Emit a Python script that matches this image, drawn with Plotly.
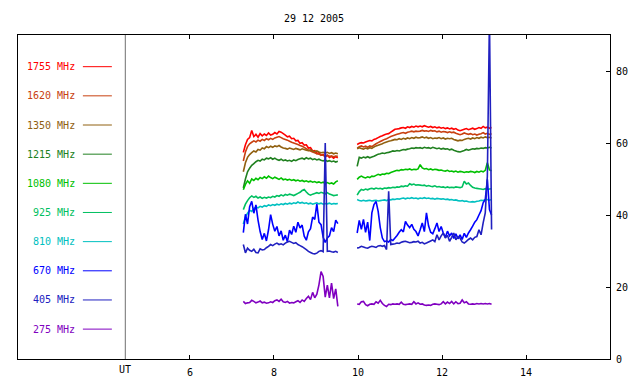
import plotly.graph_objects as go

# ---------------- data ----------------
TITLE = "29 12 2005"
FREQ_LABELS = ["1755 MHz", "1620 MHz", "1350 MHz", "1215 MHz", "1080 MHz",
               "925 MHz", "810 MHz", "670 MHz", "405 MHz", "275 MHz"]
COLORS = ["#ff0000", "#c84010", "#906010", "#208020", "#00c000",
          "#00c060", "#00c0c0", "#0000ff", "#2020c0", "#8000c0"]
X_TICKS = [6, 8, 10, 12, 14]
Y_TICKS = [0, 20, 40, 60, 80]
UT_MARK = 4.46

T1 = [7.27, 7.32, 7.37, 7.42, 7.47, 7.52, 7.57, 7.62, 7.67, 7.72,
      7.77, 7.82, 7.87, 7.92, 7.97, 8.02, 8.07, 8.12, 8.17, 8.22,
      8.27, 8.32, 8.37, 8.42, 8.47, 8.52, 8.57, 8.62, 8.67, 8.72,
      8.77, 8.82, 8.87, 8.92, 8.97, 9.02, 9.07, 9.12, 9.17, 9.22,
      9.27, 9.32, 9.37, 9.42, 9.47, 9.52]
T2 = [9.98, 10.03, 10.08, 10.13, 10.18, 10.23, 10.28, 10.33, 10.38, 10.43,
      10.48, 10.53, 10.58, 10.63, 10.68, 10.73, 10.78, 10.83, 10.88, 10.93,
      10.98, 11.03, 11.08, 11.13, 11.18, 11.23, 11.28, 11.33, 11.38, 11.43,
      11.48, 11.53, 11.58, 11.63, 11.68, 11.73, 11.78, 11.83, 11.88, 11.93,
      11.98, 12.03, 12.08, 12.13, 12.18, 12.23, 12.28, 12.33, 12.38, 12.43,
      12.48, 12.53, 12.58, 12.63, 12.68, 12.73, 12.78, 12.83, 12.88, 12.93,
      12.98, 13.03, 13.08, 13.13, 13.18]

# 1755 MHz
R1 = [57.4, 59.5, 61.0, 61.5, 63.5, 61.8, 62.4, 61.6, 62.6, 62.0,
      62.5, 62.1, 62.8, 62.2, 62.4, 62.9, 62.5, 63.2, 63.0, 62.6,
      62.2, 61.7, 61.9, 61.2, 61.3, 60.6, 60.7, 59.9, 60.1, 59.4,
      59.5, 58.6, 58.7, 57.8, 57.9, 57.1, 57.3, 56.6, 56.8, 56.1,
      56.6, 56.0, 56.3, 55.8, 56.2, 55.9]
R2 = [59.6, 59.9, 60.1, 60.0, 60.3, 60.5, 60.7, 60.6, 61.0, 61.2,
      61.5, 61.8, 62.0, 62.3, 62.5, 62.6, 63.0, 63.4, 63.8, 63.9,
      64.0, 64.2, 64.3, 64.1, 64.5, 64.3, 64.6, 64.4, 64.7, 64.5,
      64.7, 64.5, 64.8, 64.6, 64.4, 64.6, 64.3, 64.5, 64.2, 64.4,
      64.1, 64.3, 64.0, 64.2, 63.9, 64.1, 63.8, 64.0, 63.6, 63.4,
      63.6, 63.8, 64.0, 63.7, 63.9, 64.1, 63.8, 64.0, 64.3, 64.1,
      64.6, 64.2, 64.4, 64.1, 64.3]
# 1620 MHz
O1 = [55.0, 57.5, 59.0, 59.8, 60.2, 60.6, 60.3, 60.8, 60.5, 61.0,
      60.7, 61.2, 60.9, 61.3, 61.0, 61.4, 61.6, 61.8, 61.5, 61.2,
      61.0, 60.8, 60.5, 60.2, 60.0, 59.8, 59.6, 59.3, 59.1, 58.8,
      58.4, 58.0, 57.8, 57.5, 57.3, 57.0, 56.9, 56.7, 56.6, 56.4,
      56.6, 56.3, 56.4, 56.2, 56.4, 56.3]
O2 = [58.6, 59.0, 59.2, 58.9, 59.1, 58.8, 59.2, 59.0, 59.4, 59.8,
      60.1, 60.4, 60.7, 61.0, 61.2, 61.5, 61.8, 62.0, 62.2, 62.4,
      62.6, 62.8, 62.9, 62.7, 63.0, 63.1, 63.3, 63.1, 63.3, 63.2,
      63.3, 63.5, 63.3, 63.4, 63.2, 63.5, 63.3, 63.4, 63.1, 63.3,
      63.0, 63.2, 63.1, 62.9, 63.1, 62.9, 63.0, 62.7, 62.5, 62.3,
      62.5, 62.8, 62.6, 62.4, 62.6, 62.3, 62.5, 62.2, 62.4, 62.6,
      62.9, 62.5, 62.7, 62.4, 62.6]
# 1350 MHz
B1 = [52.0, 54.5, 56.0, 56.8, 57.3, 57.8, 57.5, 58.2, 58.0, 58.6,
      58.4, 59.0, 58.7, 59.1, 58.8, 59.2, 59.0, 59.3, 58.9, 58.6,
      58.5, 58.3, 58.6, 58.4, 58.2, 58.5, 58.3, 58.1, 58.4, 58.2,
      58.0, 57.9, 58.1, 57.8, 57.6, 57.8, 57.5, 57.3, 57.4, 57.2,
      57.4, 57.1, 57.3, 57.0, 57.2, 57.0]
B2 = [58.4, 58.7, 58.5, 58.3, 58.6, 58.4, 58.7, 58.5, 58.9, 59.2,
      59.4, 59.6, 59.8, 60.1, 60.3, 60.5, 60.6, 60.8, 61.0, 60.9,
      61.2, 61.0, 61.3, 61.1, 61.4, 61.2, 61.5, 61.3, 61.6, 61.4,
      61.5, 61.7, 61.4, 61.6, 61.3, 61.5, 61.2, 61.4, 61.3, 61.5,
      61.2, 61.4, 61.1, 61.3, 61.2, 61.3, 61.0, 60.8, 60.6, 60.8,
      60.7, 61.0, 61.2, 61.3, 61.1, 61.4, 61.2, 61.5, 61.3, 61.6,
      61.4, 61.7, 61.5, 61.6, 61.4]
# 1215 MHz
G1 = [47.5, 50.0, 52.0, 53.0, 53.8, 54.3, 54.8, 55.2, 55.0, 55.5,
      55.3, 55.8, 55.6, 55.9, 55.5, 55.8, 55.4, 55.2, 55.5, 55.1,
      55.3, 55.0, 55.2, 54.9, 55.3, 55.1, 55.4, 55.6, 55.8, 55.5,
      55.9, 55.6, 55.8, 55.4, 55.6, 55.3, 55.5, 55.2, 55.0, 55.3,
      54.9, 55.1, 54.8, 55.0, 54.7, 54.9]
G2 = [53.5, 56.0, 55.8, 56.1, 55.9, 56.2, 55.9, 56.1, 56.3, 56.6,
      56.9, 57.0, 57.2, 57.1, 57.3, 57.4, 57.6, 57.8, 57.7, 57.9,
      57.8, 58.0, 58.2, 58.1, 58.3, 58.4, 58.6, 58.5, 58.7, 58.6,
      58.7, 58.5, 58.8, 58.6, 58.7, 58.5, 58.8, 58.6, 58.4, 58.6,
      58.3, 58.5, 58.3, 58.4, 58.1, 58.3, 58.0, 57.8, 57.6, 57.5,
      57.7, 57.9, 58.2, 58.0, 58.2, 58.4, 58.3, 58.5, 58.4, 58.6,
      58.5, 58.7, 58.6, 58.8, 58.6]
# 1080 MHz
L1 = [47.0, 48.5, 49.5, 48.8, 50.0, 49.6, 50.2, 49.8, 50.4, 50.1,
      50.6, 50.2, 50.8, 50.4, 50.1, 50.5, 50.2, 49.9, 50.3, 49.8,
      50.0, 49.7, 49.9, 49.6, 49.8, 49.5, 49.7, 49.4, 49.6, 49.3,
      49.5, 49.2, 49.4, 49.1, 49.3, 49.0, 49.2, 48.9, 49.1, 48.8,
      49.0, 48.7, 48.9, 48.6, 49.2, 49.5]
L2 = [49.9, 50.5, 50.8, 50.5, 50.3, 50.6, 50.4, 50.8, 50.7, 51.0,
      51.3, 51.1, 51.4, 51.3, 51.6, 51.5, 51.8, 52.0, 52.2, 52.4,
      52.3, 52.6, 52.5, 52.7, 52.6, 52.8, 52.5, 52.7, 52.6, 52.8,
      54.0, 53.1, 52.8, 52.9, 52.6, 52.8, 52.5, 52.7, 52.6, 52.4,
      52.5, 52.3, 52.2, 52.4, 52.1, 52.2, 52.0, 52.2, 51.9, 52.1,
      52.0, 51.8, 52.0, 51.9, 52.1, 52.0, 51.8, 52.1, 51.9, 52.2,
      52.0, 52.4, 54.5, 52.5, 52.3]
# 925 MHz
E1 = [41.5, 43.0, 44.0, 44.8, 45.3, 44.9, 45.2, 44.7, 45.0, 44.6,
      44.9, 44.7, 45.0, 44.8, 45.2, 45.0, 45.4, 45.2, 45.6, 45.3,
      45.7, 45.5, 45.8, 45.6, 45.4, 45.7, 46.0, 46.3, 46.8, 47.1,
      46.4, 45.8, 45.5, 45.8, 46.0, 46.2, 46.0, 46.3, 46.1, 45.9,
      46.2, 45.8, 45.6, 45.4, 45.5, 45.6]
E2 = [45.5, 46.5, 47.1, 46.9, 47.2, 47.0, 47.3, 47.4, 47.2, 47.5,
      47.3, 47.4, 47.2, 47.5, 47.4, 47.6, 47.5, 47.7, 47.6, 47.8,
      47.7, 48.0, 47.9, 48.1, 48.0, 48.7, 48.4, 48.6, 48.3, 48.4,
      48.3, 48.2, 48.3, 48.0, 48.2, 48.0, 47.9, 48.1, 47.8, 47.9,
      47.7, 47.8, 47.6, 47.8, 47.6, 47.7, 47.6, 47.8, 47.7, 47.6,
      47.8, 49.4, 48.6, 48.9, 48.2, 47.7, 47.5, 47.4, 47.3, 47.2,
      47.1, 47.3, 47.1, 47.2, 47.3]
# 810 MHz
C1 = [37.5, 39.5, 40.5, 41.3, 41.0, 41.8, 42.2, 42.0, 42.4, 42.2,
      42.6, 42.4, 42.8, 42.6, 42.9, 42.7, 43.0, 42.8, 43.1, 42.9,
      43.2, 43.0, 43.3, 43.1, 43.4, 43.2, 43.6, 43.3, 43.5, 43.2,
      43.4, 43.1, 43.3, 43.0, 43.2, 43.4, 43.1, 43.3, 43.0, 43.2,
      43.1, 43.3, 43.0, 43.2, 43.1, 43.2]
C2 = [44.3, 44.0, 43.9, 44.1, 43.9, 44.0, 44.1, 43.9, 44.0, 44.1,
      43.9, 44.0, 44.1, 44.2, 44.0, 44.3, 44.2, 44.4, 44.3, 44.5,
      44.4, 44.6, 44.7, 44.5, 44.7, 44.6, 44.8, 44.6, 44.7, 44.5,
      44.7, 44.6, 44.8, 44.6, 44.7, 44.5, 44.6, 44.4, 44.6, 44.5,
      44.4, 44.5, 44.3, 44.4, 44.2, 44.3, 44.1, 44.2, 44.0, 43.9,
      44.0, 43.8, 43.9, 43.7, 43.6, 43.7, 43.6, 43.8, 43.9, 44.1,
      44.0, 44.2, 44.3, 44.1, 44.3]
# 670 MHz
U1 = [35.1, 40.2, 37.5, 42.3, 43.8, 40.5, 42.8, 38.6, 35.4, 33.2,
      34.9, 32.8, 35.9, 40.1, 37.4, 35.5, 36.8, 34.2, 35.6, 33.0,
      34.4, 32.6, 35.8, 34.6, 36.9, 35.2, 38.0, 36.4, 37.2, 34.1,
      33.0, 35.3, 36.2, 39.4, 38.8, 43.1, 38.0, 37.3, 33.8, 32.4,
      33.6, 34.2, 36.5, 35.4, 38.6, 37.6]
U2 = [35.0, 38.5, 36.0, 38.8, 35.2, 38.0, 32.9, 40.6, 42.9, 43.8,
      41.0, 36.5, 33.6, 32.6, 32.8, 32.5, 33.2, 32.9, 33.6, 34.3,
      35.2, 35.9, 35.3, 38.2, 37.2, 36.5, 37.4, 36.0, 35.4, 34.2,
      35.9, 37.8, 35.4, 40.6, 37.0, 35.2, 34.8, 36.2, 37.8, 35.4,
      36.8, 35.0, 33.8, 35.5, 34.2, 35.0, 33.5, 34.8, 33.4, 34.5,
      33.2, 34.9, 33.8, 35.0, 35.9, 36.9, 38.0, 38.7, 40.0, 41.2,
      43.4, 44.3, 49.9, 41.5, 40.0]
# 405 MHz
D1 = [31.8, 29.5, 30.8, 30.2, 29.9, 30.5, 29.6, 29.5, 30.6, 30.3,
      30.4, 30.9, 31.3, 31.8, 31.5, 31.9, 32.2, 31.8, 32.0, 31.7,
      32.2, 32.5, 32.7, 32.4, 32.1, 32.3, 31.8, 31.5, 31.2, 30.8,
      30.4, 29.9, 29.6, 29.3, 29.2, 29.4, 29.9, 30.1, 29.8, 60.0,
      29.9, 30.0, 29.8, 29.7, 29.9, 29.6]
D2 = [30.8, 31.0, 31.3, 31.1, 30.9, 30.8, 31.1, 31.3, 31.2, 31.0,
      31.4, 31.5, 31.3, 31.5, 30.4, 46.6, 31.8, 31.9, 32.0, 32.2,
      32.1, 32.4, 32.6, 32.7, 32.5, 32.3, 32.4, 32.6, 32.5, 32.7,
      32.2, 32.4, 32.0, 32.2, 32.5, 32.8, 33.1, 32.6, 34.5, 33.1,
      34.2, 35.0, 33.6, 34.4, 32.7, 33.8, 35.0, 33.1, 34.0, 33.6,
      32.5, 32.2, 32.7, 33.2, 33.6, 33.1, 33.8, 34.0, 35.9, 34.5,
      37.8, 40.6, 50.8, 95.0, 36.0]
# 275 MHz
P1 = [16.0, 15.4, 15.6, 15.7, 16.3, 16.0, 15.6, 15.8, 16.1, 15.6,
      15.8, 15.5, 15.6, 15.9, 15.7, 16.2, 16.4, 16.0, 16.6, 15.9,
      15.7, 16.0, 15.5, 15.7, 15.6, 15.9, 16.2, 15.7, 16.4, 16.0,
      16.8, 17.4, 16.5, 18.5, 17.0, 18.0, 20.6, 24.3, 22.9, 17.2,
      20.5, 17.0, 21.1, 16.8, 19.5, 14.6]
P2 = [15.3, 15.2, 15.9, 16.0, 15.1, 14.8, 15.2, 15.3, 15.2, 15.9,
      15.5, 16.3, 15.4, 14.9, 14.6, 15.2, 15.1, 15.3, 15.2, 15.3,
      15.2, 15.8, 15.2, 15.1, 15.2, 15.3, 15.2, 15.9, 15.3, 15.6,
      15.2, 15.3, 15.0, 14.9, 15.0, 14.9, 15.2, 15.3, 15.2, 15.1,
      15.3, 15.9, 15.3, 15.8, 15.4, 16.0, 15.3, 15.9, 15.4, 15.5,
      16.4, 15.6, 15.9, 15.3, 15.2, 15.3, 15.2, 15.4, 15.3, 15.4,
      15.3, 15.4, 15.3, 15.4, 15.2]

SEG1 = [R1, O1, B1, G1, L1, E1, C1, U1, D1, P1]
SEG2 = [R2, O2, B2, G2, L2, E2, C2, U2, D2, P2]
for a in SEG1:
    assert len(a) == len(T1), len(a)
for a in SEG2:
    assert len(a) == len(T2), len(a)

# ---------------- figure ----------------
FONT = "DejaVu Sans Mono"
fig = go.Figure()

for lab, col, s1, s2 in zip(FREQ_LABELS, COLORS, SEG1, SEG2):
    fig.add_trace(go.Scatter(
        x=T1 + [None] + T2, y=s1 + [None] + s2, mode="lines",
        line=dict(color=col, width=1.6, simplify=False),
        connectgaps=False, name=lab, showlegend=False, hoverinfo="skip"))

# custom legend: label then a short coloured line
LEG_TOP, LEG_STEP = 81.2, 8.1
LEG_TEXT_X, LEG_LINE_X0, LEG_LINE_X1 = 3.30, 3.45, 4.14
for k, (lab, col) in enumerate(zip(FREQ_LABELS, COLORS)):
    yy = LEG_TOP - k * LEG_STEP
    fig.add_annotation(x=LEG_TEXT_X, y=yy, xref="x", yref="y", text=lab,
                       showarrow=False, xanchor="right", yanchor="middle",
                       font=dict(family=FONT, size=10, color=col))
    fig.add_shape(type="line", xref="x", yref="y", x0=LEG_LINE_X0, x1=LEG_LINE_X1,
                  y0=yy, y1=yy, line=dict(color=col, width=1))

# UT separator
fig.add_shape(type="line", xref="x", yref="paper", x0=UT_MARK, x1=UT_MARK,
              y0=0, y1=1, line=dict(color="#707070", width=1))
fig.add_annotation(x=UT_MARK, y=0, xref="x", yref="paper", text="UT",
                   showarrow=False, yanchor="top", yshift=-3,
                   font=dict(family=FONT, size=10, color="black"))

fig.update_layout(
    width=640, height=384,
    margin=dict(l=18, r=30, t=35, b=25, autoexpand=False),
    paper_bgcolor="white", plot_bgcolor="white",
    title=dict(text=TITLE, x=0.5, xref="paper", y=1 - 18 / 384, yref="container",
               xanchor="center", yanchor="middle",
               font=dict(family=FONT, size=10, color="black")),
    font=dict(family=FONT, size=10, color="black"),
    showlegend=False,
)
fig.update_xaxes(range=[1.905, 16], tickvals=X_TICKS, ticktext=[str(v) for v in X_TICKS],
                 ticks="inside", ticklen=4, tickcolor="black", showgrid=False,
                 zeroline=False, showline=True, linecolor="black", linewidth=1,
                 mirror="ticks", ticklabelstandoff=4, automargin=False,
                 tickfont=dict(family=FONT, size=10, color="black"))
fig.update_yaxes(range=[0, 90], tickvals=Y_TICKS, side="right",
                 ticks="inside", ticklen=4, tickcolor="black", showgrid=False,
                 zeroline=False, showline=True, linecolor="black", linewidth=1,
                 mirror=True, ticklabelstandoff=3, automargin=False,
                 tickfont=dict(family=FONT, size=10, color="black"))

fig.write_html("out.html", config={"displayModeBar": False},
               post_script="document.body.style.margin='0';document.body.style.overflow='hidden';")
